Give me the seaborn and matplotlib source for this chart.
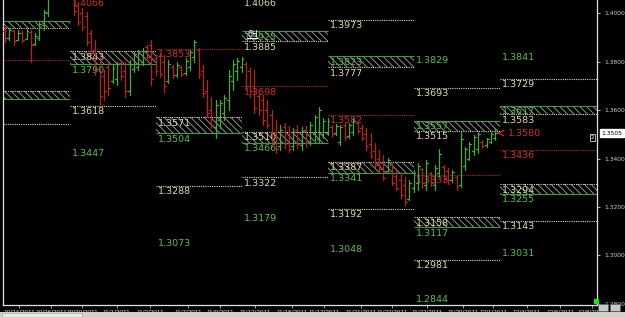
import numpy as np
import pandas as pd
import matplotlib
matplotlib.use("Agg")
import matplotlib.pyplot as plt
import seaborn as sns
from matplotlib.patches import Rectangle

# ---------------- data ----------------
bar_high = [
    1.3943, 1.3939, 1.3931, 1.3931, 1.3927, 1.3935, 1.3931, 1.3919, 1.3964, 1.4014,
    1.4090, 1.4160, 1.4230, 1.4245, 1.4200,
    1.4160, 1.4100, 1.4047, 1.4022, 1.4005, 1.3931, 1.3890, 1.3828, 1.3766, 1.3799,
    1.3787, 1.3799, 1.3807, 1.3799, 1.3807, 1.3840, 1.3848, 1.3857, 1.3869, 1.3890,
    1.3828, 1.3836, 1.3828, 1.3807, 1.3787, 1.3799, 1.3783, 1.3815, 1.3848, 1.3890,
    1.3857, 1.3787, 1.3725, 1.3654, 1.3642, 1.3642, 1.3663, 1.3766, 1.3807, 1.3815,
    1.3820, 1.3799, 1.3774, 1.3766, 1.3683, 1.3663, 1.3642, 1.3601, 1.3559, 1.3539,
    1.3547, 1.3535, 1.3526, 1.3539, 1.3530, 1.3535, 1.3551, 1.3580, 1.3613, 1.3568,
    1.3568, 1.3539, 1.3543, 1.3539, 1.3547, 1.3547, 1.3568, 1.3551, 1.3539, 1.3526,
    1.3506, 1.3464, 1.3436, 1.3415, 1.3402, 1.3382, 1.3353, 1.3345, 1.3324, 1.3312,
    1.3353, 1.3382, 1.3361, 1.3394, 1.3345, 1.3373, 1.3440, 1.3373, 1.3361, 1.3353,
    1.3332, 1.3510, 1.3448, 1.3469, 1.3497, 1.3510, 1.3477, 1.3485, 1.3510, 1.3526,
]
bar_low = [
    1.3882, 1.3890, 1.3869, 1.3890, 1.3882, 1.3898, 1.3799, 1.3869, 1.3890, 1.3931,
    1.3990, 1.4070, 1.4130, 1.4150, 1.4120,
    1.4065, 1.3993, 1.3952, 1.3931, 1.3869, 1.3828, 1.3745, 1.3621, 1.3642, 1.3663,
    1.3712, 1.3704, 1.3725, 1.3654, 1.3663, 1.3758, 1.3766, 1.3787, 1.3807, 1.3704,
    1.3745, 1.3737, 1.3675, 1.3712, 1.3733, 1.3737, 1.3741, 1.3745, 1.3766, 1.3799,
    1.3733, 1.3654, 1.3572, 1.3526, 1.3485, 1.3526, 1.3559, 1.3601, 1.3683, 1.3725,
    1.3758, 1.3683, 1.3654, 1.3588, 1.3580, 1.3539, 1.3526, 1.3456, 1.3423, 1.3436,
    1.3444, 1.3427, 1.3436, 1.3444, 1.3436, 1.3448, 1.3456, 1.3477, 1.3464, 1.3485,
    1.3497, 1.3489, 1.3497, 1.3456, 1.3477, 1.3485, 1.3497, 1.3506, 1.3477, 1.3436,
    1.3402, 1.3365, 1.3345, 1.3312, 1.3345, 1.3291, 1.3270, 1.3237, 1.3208, 1.3229,
    1.3262, 1.3270, 1.3279, 1.3270, 1.3287, 1.3270, 1.3324, 1.3303, 1.3295, 1.3303,
    1.3270, 1.3283, 1.3353, 1.3394, 1.3415, 1.3423, 1.3444, 1.3448, 1.3464, 1.3477,
]
bar_open = [
    1.3925, 1.3900, 1.3928, 1.3888, 1.3918, 1.3892, 1.3922, 1.3872, 1.3900, 1.3950,
    1.4000, 1.4080, 1.4150, 1.4210, 1.4170,
    1.4140, 1.4080, 1.4030, 1.4000, 1.3990, 1.3920, 1.3850, 1.3770, 1.3740, 1.3780,
    1.3720, 1.3730, 1.3795, 1.3760, 1.3680, 1.3770, 1.3780, 1.3800, 1.3860, 1.3870,
    1.3815, 1.3825, 1.3800, 1.3720, 1.3780, 1.3745, 1.3778, 1.3755, 1.3780, 1.3820,
    1.3850, 1.3760, 1.3680, 1.3600, 1.3530, 1.3560, 1.3590, 1.3640, 1.3720, 1.3760,
    1.3780, 1.3790, 1.3760, 1.3700, 1.3660, 1.3640, 1.3600, 1.3580, 1.3510, 1.3450,
    1.3530, 1.3500, 1.3450, 1.3520, 1.3455, 1.3520, 1.3470, 1.3500, 1.3480, 1.3500,
    1.3510, 1.3530, 1.3505, 1.3470, 1.3540, 1.3495, 1.3510, 1.3545, 1.3525, 1.3500,
    1.3460, 1.3430, 1.3400, 1.3380, 1.3350, 1.3375, 1.3330, 1.3310, 1.3290, 1.3235,
    1.3280, 1.3300, 1.3355, 1.3290, 1.3340, 1.3290, 1.3340, 1.3365, 1.3350, 1.3310,
    1.3325, 1.3290, 1.3370, 1.3400, 1.3430, 1.3440, 1.3470, 1.3455, 1.3470, 1.3485,
]
bar_close = [
    1.3900, 1.3930, 1.3885, 1.3920, 1.3890, 1.3925, 1.3870, 1.3905, 1.3955, 1.4005,
    1.4085, 1.4150, 1.4210, 1.4170, 1.4140,
    1.4080, 1.4010, 1.3965, 1.3945, 1.3880, 1.3840, 1.3760, 1.3660, 1.3680, 1.3690,
    1.3775, 1.3790, 1.3740, 1.3680, 1.3790, 1.3830, 1.3835, 1.3845, 1.3820, 1.3730,
    1.3760, 1.3750, 1.3700, 1.3790, 1.3745, 1.3785, 1.3750, 1.3805, 1.3840, 1.3880,
    1.3750, 1.3670, 1.3590, 1.3540, 1.3620, 1.3630, 1.3650, 1.3740, 1.3790, 1.3805,
    1.3810, 1.3700, 1.3680, 1.3610, 1.3600, 1.3560, 1.3540, 1.3470, 1.3440, 1.3520,
    1.3460, 1.3440, 1.3510, 1.3460, 1.3515, 1.3465, 1.3540, 1.3570, 1.3600, 1.3555,
    1.3555, 1.3500, 1.3535, 1.3530, 1.3490, 1.3540, 1.3555, 1.3515, 1.3485, 1.3450,
    1.3410, 1.3375, 1.3355, 1.3320, 1.3395, 1.3300, 1.3280, 1.3250, 1.3220, 1.3300,
    1.3340, 1.3370, 1.3300, 1.3380, 1.3300, 1.3360, 1.3420, 1.3320, 1.3310, 1.3345,
    1.3285, 1.3480, 1.3440, 1.3460, 1.3490, 1.3500, 1.3450, 1.3480, 1.3500, 1.3505,
]

week_start = [-0.5, 15, 35, 55, 75, 95, 115]
week_end = [15, 35, 55, 75, 95, 115, 138]

level_week = [0, 0, 0, 0, 0, 0,
              1, 1, 1, 1, 1,
              2, 2, 2, 2, 2,
              3, 3, 3, 3, 3, 3, 3, 3,
              4, 4, 4, 4, 4, 4, 4, 4,
              5, 5, 5, 5, 5, 5, 5, 5, 5,
              6, 6, 6, 6, 6, 6, 6, 6, 6]
level_price = [1.3968, 1.3940, 1.3807, 1.3679, 1.3646, 1.3543,
               1.4066, 1.3843, 1.3790, 1.3618, 1.3447,
               1.3853, 1.3571, 1.3504, 1.3288, 1.3073,
               1.4066, 1.3925, 1.3885, 1.3698, 1.3510, 1.3466, 1.3322, 1.3179,
               1.3973, 1.3823, 1.3777, 1.3582, 1.3387, 1.3341, 1.3192, 1.3048,
               1.3829, 1.3693, 1.3557, 1.3515, 1.3333, 1.3158, 1.3117, 1.2981, 1.2844,
               1.3841, 1.3729, 1.3617, 1.3583, 1.3436, 1.3294, 1.3255, 1.3143, 1.3031]
level_kind = ['g', 'y', 'r', 'y', 'g', 'y',
              'r', 'y', 'g', 'y', 'G',
              'r', 'y', 'g', 'y', 'G',
              'y', 'g', 'y', 'r', 'y', 'g', 'y', 'G',
              'y', 'g', 'y', 'r', 'y', 'g', 'y', 'G',
              'G', 'y', 'g', 'y', 'r', 'y', 'g', 'y', 'G',
              'G', 'y', 'g', 'y', 'r', 'y', 'g', 'y', 'G']

zone_week = [0, 0, 1, 2, 3, 3, 4, 4, 5, 5, 6, 6]
zone_top = [1.3968, 1.3679, 1.3843, 1.3571, 1.3925, 1.3510, 1.3823, 1.3387,
            1.3557, 1.3158, 1.3617, 1.3294]
zone_bottom = [1.3940, 1.3646, 1.3790, 1.3504, 1.3885, 1.3466, 1.3777, 1.3341,
               1.3515, 1.3117, 1.3583, 1.3255]

date_labels = ['10/24/2011', '10/26/2011', '10/30/2011', '11/1/2011', '11/3/2011',
               '11/7/2011', '11/9/2011', '11/13/2011', '11/15/2011', '11/17/2011',
               '11/21/2011', '11/23/2011', '11/27/2011', '11/29/2011', '12/1/2011',
               '12/4/2011', '12/6/2011', '12/8/2011']
date_pos = [3.3, 10.7, 17.9, 26.0, 33.7, 42.6, 50.0, 58.1, 66.7, 74.2, 82.8, 90.0,
            98.1, 106.5, 113.5, 121.4, 129.1, 136.5]

price_ticks = [1.28, 1.30, 1.32, 1.34, 1.36, 1.38, 1.40]
current_price = 1.3505
alert_price = 1.3580
timeframe = "6H"

# ---------------- style ----------------
sns.set_style("ticks")
plt.rcParams['font.family'] = ['DejaVu Sans']
plt.rcParams['hatch.linewidth'] = 0.6
NARROW = ['Liberation Sans Narrow', 'Liberation Sans', 'DejaVu Sans']

GREEN_BAR = '#46aa3a'
RED_BAR = '#b8221e'
YEL_LINE = '#d8d8aa'
RED_LINE = '#b02828'
GRN_LINE = '#3c9c3c'
LABEL_COL = {'y': '#dcdcac', 'r': '#d03030', 'g': '#5cbc50', 'G': '#5cbc50'}

W, H = 625, 317
fig = plt.figure(figsize=(W / 100, H / 100), dpi=100, facecolor='black')
ax = fig.add_axes([3 / W, 12 / H, 594 / W, 305 / H], facecolor='black')

# ---------------- zones ----------------
for wk, top, bot in zip(zone_week, zone_top, zone_bottom):
    x0, x1 = week_start[wk], week_end[wk]
    ax.add_patch(Rectangle((x0, bot), x1 - x0, top - bot, facecolor='none',
                           edgecolor='#a4a4a4', hatch='\\\\\\\\\\', lw=0, zorder=1))

# ---------------- levels ----------------
for wk, p, k in zip(level_week, level_price, level_kind):
    x0, x1 = week_start[wk], week_end[wk]
    if k == 'y':
        ax.hlines(p, x0, x1, colors=YEL_LINE, lw=0.8, linestyles=(0, (1, 1)), zorder=2)
    elif k == 'r':
        ax.hlines(p, x0, x1, colors=RED_LINE, lw=0.8, linestyles=(0, (1, 1)), zorder=2)
    elif k == 'g':
        ax.hlines(p, x0, x1, colors=GRN_LINE, lw=0.8, zorder=2)
    if wk > 0:
        ax.annotate(f"{p:.4f}", xy=(x0, p), xytext=(2, -1), textcoords='offset points',
                    ha='left', va='top', fontsize=6.8, color=LABEL_COL[k], zorder=2.5,
                    annotation_clip=False, clip_on=True)

# ---------------- OHLC bars via seaborn ----------------
rows = []
for i, (h, l, o, c) in enumerate(zip(bar_high, bar_low, bar_open, bar_close)):
    d = 'up' if c >= o else 'down'
    rows.append((i, l, f'{i}v', d))
    rows.append((i, h, f'{i}v', d))
    rows.append((i - 0.45, o, f'{i}o', d))
    rows.append((i, o, f'{i}o', d))
    rows.append((i, c, f'{i}c', d))
    rows.append((i + 0.45, c, f'{i}c', d))
df = pd.DataFrame(rows, columns=['x', 'price', 'unit', 'dir'])
sns.lineplot(data=df, x='x', y='price', units='unit', hue='dir', estimator=None,
             sort=False, palette={'up': GREEN_BAR, 'down': RED_BAR}, legend=False,
             lw=0.9, ax=ax, zorder=3)

# ---------------- decorations ----------------
ax.text((247 - 3) / 594, 1 - 34.5 / 305, timeframe, transform=ax.transAxes,
        fontsize=5.5, color='white', ha='left', va='center', zorder=5)
ax.plot([(247 - 3) / 594, (258 - 3) / 594], [1 - 38 / 305] * 2, color='white', lw=0.7,
        transform=ax.transAxes, zorder=5)

last_i = len(bar_close) - 1
ax.annotate('', xy=(last_i - 0.2, current_price), xytext=(last_i + 1.6, current_price),
            arrowprops=dict(arrowstyle='->', color='#d03030', lw=0.8), zorder=5)
ax.text(last_i + 2.9, current_price - 0.0003, f"{alert_price:.4f}", fontsize=6.8,
        color='#d03030', ha='left', va='center', zorder=5)

ax.annotate(f"{current_price:.4f}", xy=(1, current_price), xycoords=('axes fraction', 'data'),
            xytext=(3, 0), textcoords='offset points', ha='left', va='center',
            fontsize=4.3, color='black', annotation_clip=False,
            bbox=dict(boxstyle='square,pad=0.25', fc='white', ec='white'))
ax.text(0.992, current_price - 0.0017, '2', transform=ax.get_yaxis_transform(),
        fontsize=4, color='white', ha='center', va='center',
        bbox=dict(boxstyle='square,pad=0.15', fc='black', ec='white', lw=0.5))
ax.plot([0.998], [0.012], marker='s', ms=3.5, color='#22dd22', transform=ax.transAxes,
        clip_on=False, zorder=6)

# ---------------- axes ----------------
ax.set_xlim(-0.47, 137.67)
ax.set_ylim(1.27954, 1.4055)
ax.yaxis.tick_right()
ax.set_yticks(price_ticks)
ax.set_yticklabels([f"{t:.4f}" for t in price_ticks])
ax.tick_params(axis='y', colors='#d8d8d8', labelsize=4.3, length=2, width=0.6, pad=3,
               labelcolor='#d0d0d0')
ax.set_xticks(date_pos)
ax.set_xticklabels(date_labels, family=NARROW)
ax.tick_params(axis='x', colors='#bbbbbb', labelsize=4.6, length=2, width=0.6, pad=1.5,
               labelcolor='#e0e0e0')
ax.set_xlabel('')
ax.set_ylabel('')
ax.grid(False)
for side in ['left', 'right', 'bottom']:
    ax.spines[side].set_color('#e0e0e0')
    ax.spines[side].set_linewidth(0.9)
ax.spines['top'].set_visible(False)

# bottom scrollbar strip and corner icons
fig.add_artist(Rectangle((0, 0), 1, 5 / H, transform=fig.transFigure,
                         facecolor='#d4d0c8', edgecolor='none'))
fig.add_artist(Rectangle((2 / W, 0.5 / H), 80 / W, 4 / H, transform=fig.transFigure,
                         facecolor='#ece9e2', edgecolor='#a0a0a0', lw=0.4))
fig.add_artist(Rectangle((598 / W, 6 / H), 10 / W, 7 / H, transform=fig.transFigure,
                         facecolor='#c8c8c8', edgecolor='#606060', lw=0.4))
fig.add_artist(Rectangle((610 / W, 6 / H), 10 / W, 7 / H, transform=fig.transFigure,
                         facecolor='#c8c8c8', edgecolor='#606060', lw=0.4))

fig.savefig('out.png', dpi=100, facecolor='black')
